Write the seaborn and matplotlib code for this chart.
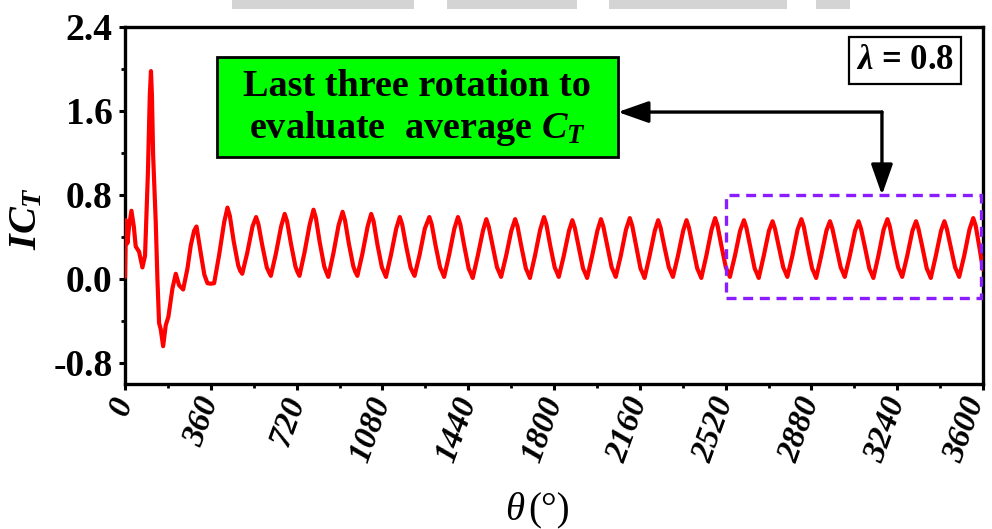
import matplotlib
matplotlib.use("Agg")
import matplotlib.pyplot as plt
import matplotlib.transforms as mtransforms
import seaborn as sns
import pandas as pd
from matplotlib.patches import Rectangle
from matplotlib.ticker import MultipleLocator

# Instantaneous thrust coefficient over ten rotor revolutions (lambda = 0.8)
theta = [
    0, 4, 10, 17, 27, 37, 45, 59, 73, 84, 96, 104, 109, 113, 118, 129, 136, 143, 150, 160,
    171, 182, 199, 213, 227, 244, 262, 276, 290, 300, 319, 333, 346, 360, 374, 395, 416,
    430, 440, 456, 475, 483, 492, 513, 535,
    550, 560, 576, 595, 603, 612, 633, 655,
    670, 680, 696, 715, 723, 732, 753, 775,
    791, 801, 817, 836, 844, 853, 874, 896,
    913, 923, 939, 958, 966, 975, 996, 1018,
    1033, 1043, 1059, 1078, 1086, 1095, 1116, 1138,
    1153, 1163, 1179, 1198, 1206, 1215, 1236, 1258,
    1277, 1287, 1303, 1322, 1330, 1339, 1360, 1382,
    1397, 1407, 1423, 1442, 1450, 1459, 1480, 1502,
    1516, 1526, 1542, 1561, 1569, 1578, 1599, 1621,
    1637, 1647, 1663, 1682, 1690, 1699, 1720, 1742,
    1758, 1768, 1784, 1803, 1811, 1820, 1841, 1863,
    1877, 1887, 1903, 1922, 1930, 1939, 1960, 1982,
    1997, 2007, 2023, 2042, 2050, 2059, 2080, 2102,
    2118, 2128, 2144, 2163, 2171, 2180, 2201, 2223,
    2237, 2247, 2263, 2282, 2290, 2299, 2320, 2342,
    2356, 2366, 2382, 2401, 2409, 2418, 2439, 2461,
    2476, 2486, 2502, 2521, 2529, 2538, 2559, 2581,
    2597, 2607, 2623, 2642, 2650, 2659, 2680, 2702,
    2717, 2727, 2743, 2762, 2770, 2779, 2800, 2822,
    2838, 2848, 2864, 2883, 2891, 2900, 2921, 2943,
    2958, 2968, 2984, 3003, 3011, 3020, 3041, 3063,
    3078, 3088, 3104, 3123, 3131, 3140, 3161, 3183,
    3199, 3209, 3225, 3244, 3252, 3261, 3282, 3304,
    3319, 3329, 3345, 3364, 3372, 3381, 3402, 3424,
    3438, 3448, 3464, 3483, 3491, 3500, 3521, 3543,
    3559, 3569, 3585, 3600,
]
ict = [
    0.02, 0.56, 0.34, 0.50, 0.65, 0.50, 0.31, 0.26, 0.11, 0.22, 1.00, 1.75, 1.98, 1.75, 1.18, 0.54, 0.00, -0.42, -0.48, -0.64,
    -0.44, -0.36, -0.09, 0.05, -0.06, -0.10, 0.10, 0.32, 0.46, 0.50, 0.23, 0.04, -0.04, -0.045, -0.04, 0.23, 0.54,
    0.68, 0.60, 0.36, 0.13, 0.08, 0.05, 0.25, 0.50,
    0.59, 0.52, 0.32, 0.11, 0.07, 0.03, 0.24, 0.50,
    0.62, 0.55, 0.34, 0.12, 0.07, 0.03, 0.25, 0.52,
    0.66, 0.58, 0.35, 0.12, 0.07, 0.02, 0.24, 0.51,
    0.64, 0.56, 0.34, 0.12, 0.07, 0.03, 0.24, 0.50,
    0.62, 0.55, 0.33, 0.11, 0.07, 0.02, 0.23, 0.48,
    0.59, 0.52, 0.32, 0.11, 0.07, 0.03, 0.23, 0.48,
    0.59, 0.52, 0.32, 0.11, 0.07, 0.02, 0.23, 0.48,
    0.59, 0.52, 0.32, 0.10, 0.06, 0.01, 0.22, 0.46,
    0.57, 0.50, 0.32, 0.11, 0.07, 0.02, 0.22, 0.46,
    0.57, 0.50, 0.31, 0.10, 0.06, 0.01, 0.22, 0.47,
    0.59, 0.52, 0.32, 0.11, 0.07, 0.02, 0.22, 0.46,
    0.56, 0.49, 0.31, 0.10, 0.06, 0.01, 0.22, 0.46,
    0.57, 0.50, 0.32, 0.11, 0.07, 0.02, 0.22, 0.47,
    0.58, 0.51, 0.32, 0.10, 0.06, 0.01, 0.22, 0.46,
    0.56, 0.49, 0.31, 0.11, 0.07, 0.02, 0.22, 0.46,
    0.56, 0.49, 0.31, 0.10, 0.06, 0.01, 0.22, 0.47,
    0.58, 0.51, 0.32, 0.11, 0.07, 0.02, 0.22, 0.46,
    0.56, 0.49, 0.31, 0.10, 0.06, 0.01, 0.22, 0.46,
    0.55, 0.48, 0.31, 0.11, 0.07, 0.02, 0.22, 0.47,
    0.57, 0.50, 0.31, 0.10, 0.06, 0.01, 0.22, 0.46,
    0.55, 0.48, 0.31, 0.11, 0.07, 0.02, 0.22, 0.46,
    0.55, 0.48, 0.31, 0.10, 0.06, 0.01, 0.22, 0.47,
    0.57, 0.50, 0.31, 0.11, 0.07, 0.02, 0.22, 0.46,
    0.55, 0.48, 0.31, 0.10, 0.06, 0.01, 0.22, 0.46,
    0.55, 0.48, 0.31, 0.11, 0.07, 0.02, 0.22, 0.47,
    0.58, 0.51, 0.30, 0.09,
]

x_ticks = [0, 360, 720, 1080, 1440, 1800, 2160, 2520, 2880, 3240, 3600]
y_ticks = [-0.8, 0.0, 0.8, 1.6, 2.4]
y_tick_labels = ["-0.8", "0.0", "0.8", "1.6", "2.4"]

sns.set_theme(style="white")
plt.rcParams["font.family"] = ["Liberation Serif", "DejaVu Serif"]
plt.rcParams["text.color"] = "black"
plt.rcParams["axes.labelcolor"] = "black"
plt.rcParams["xtick.color"] = "black"
plt.rcParams["ytick.color"] = "black"
plt.rcParams["mathtext.fontset"] = "custom"
plt.rcParams["mathtext.it"] = "Liberation Serif:italic:bold"
plt.rcParams["mathtext.rm"] = "Liberation Serif:bold"
plt.rcParams["mathtext.bf"] = "Liberation Serif:bold"

W, H = 992, 529
fig = plt.figure(figsize=(W / 100, H / 100), dpi=100)
fig.patch.set_facecolor("white")

# faint grey strip along the top edge of the page
for x0, x1 in [(232, 414), (447, 577), (609, 787), (816, 850)]:
    fig.patches.append(Rectangle((x0 / W, 1 - 9 / H), (x1 - x0) / W, 9 / H,
                                 transform=fig.transFigure, facecolor="#d4d4d4",
                                 edgecolor="none", zorder=0))

ax = fig.add_axes([125 / W, 1 - 384 / H, (983 - 125) / W, (384 - 27) / H])

df = pd.DataFrame({"theta": theta, "ict": ict})
sns.lineplot(data=df, x="theta", y="ict", sort=False, estimator=None,
             color="#ff0000", linewidth=3.0, ax=ax, zorder=3)

ax.set_xlim(0, 3600)
ax.set_ylim(-1.0, 2.4)
ax.set_xticks(x_ticks)
ax.set_xticklabels([str(v) for v in x_ticks], rotation=70, ha="right", va="center",
                   rotation_mode="anchor", fontstyle="italic", fontweight="bold", fontsize=24)
ax.set_yticks(y_ticks)
ax.set_yticklabels(y_tick_labels, fontweight="bold", fontsize=27)
ax.xaxis.set_minor_locator(MultipleLocator(180))
ax.yaxis.set_minor_locator(MultipleLocator(0.4))
ax.tick_params(axis="both", which="major", direction="out", length=4, width=2.2,
               color="black", labelcolor="black", bottom=True, left=True, pad=5)
ax.tick_params(axis="both", which="minor", direction="out", length=3, width=2.0,
               color="black", bottom=True, left=True)
ax.tick_params(axis="x", which="major", pad=6)
for s in ax.spines.values():
    s.set_color("black")
    s.set_linewidth(2.4)
ax.set_xlabel("")
ax.set_ylabel("")

# keep the last rotated label inside the canvas
last_lbl = ax.get_xticklabels()[-1]
last_lbl.set_transform(last_lbl.get_transform()
                       + mtransforms.ScaledTranslation(-7 / 100, 0, fig.dpi_scale_trans))

# axis titles
fig.text(27 / W, 1 - 218 / H, "$IC_T$", rotation=90, fontsize=29, ha="center", va="center",
         color="black")
fig.text(524 / W, 1 - 520 / H, "\u03b8", fontstyle="italic", fontsize=28, ha="right",
         va="baseline", color="black")
fig.text(528 / W, 1 - 520 / H, "(\u00b0)", fontsize=28, ha="left", va="baseline", color="black")

# annotation box
ax.add_patch(Rectangle((386, 1.16), 1682, 0.95, facecolor="#00ff00", edgecolor="black",
                       linewidth=2.0, zorder=4))
ax.text(1227, 1.625, "Last three rotation to\nevaluate  average $C_T$", ha="center", va="center",
        fontsize=27.5, fontweight="bold", linespacing=1.15, color="black", zorder=5)

# averaging window
ax.add_patch(Rectangle((2520, -0.18), 1070, 0.98, facecolor="none", edgecolor="#8a1cff",
                       linewidth=2.4, linestyle=(0, (3, 2)), zorder=4))

# connector arrows
arrow_kw = dict(arrowstyle="-|>,head_length=0.85,head_width=0.3", color="black", lw=2.4,
                mutation_scale=22, shrinkA=0, shrinkB=0)
ax.annotate("", xy=(2068, 1.59), xytext=(3176, 1.59), arrowprops=arrow_kw, zorder=5)
ax.annotate("", xy=(3176, 0.80), xytext=(3176, 1.59), arrowprops=arrow_kw, zorder=5)

# tip-speed ratio tag
ax.text(3273, 2.08, "$\\lambda$ = 0.8", ha="center", va="center", fontsize=25, fontweight="bold",
        color="black",
        bbox=dict(boxstyle="square,pad=0.2", facecolor="white", edgecolor="black", linewidth=1.6),
        zorder=5)

fig.savefig("out.png", dpi=100)
